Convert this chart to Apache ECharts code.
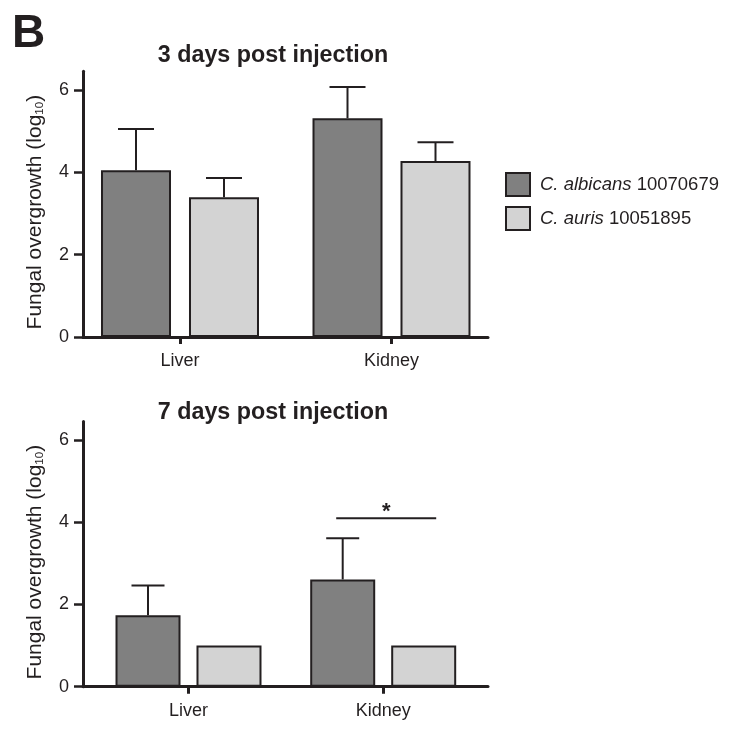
<!DOCTYPE html>
<html><head><meta charset="utf-8">
<script src="https://cdn.jsdelivr.net/npm/echarts@6/dist/echarts.min.js"></script>
<style>html,body{margin:0;padding:0;background:#fff}#c{width:737px;height:731px}</style>
</head><body><div id="c"></div>
<script>
// ---- data ----
const categories = ['Liver', 'Kidney'];
const strainNames = ['C. albicans 10070679', 'C. auris 10051895'];
const day3Albicans = [4.05, 5.31];
const day3AlbicansUpper = [5.05, 6.07];
const day3Auris = [3.39, 4.27];
const day3AurisUpper = [3.86, 4.73];
const day7Albicans = [1.74, 2.61];
const day7AlbicansUpper = [2.46, 3.61];
const day7Auris = [1.0, 1.0];
const day7AurisUpper = [1.0, 1.0];
const yTicks = [0, 2, 4, 6];
const yMax = 6.45;
const day7Significance = [[1, 4.1, '*']];

// ---- styles ----
const INK = '#231f20';
const DARK = '#808080';
const LIGHT = '#d3d3d3';
const FONT = 'Liberation Sans, Arial, Helvetica, sans-serif';

function errData(mean, upper) {
  return categories.map((c, i) => [i, mean[i], upper[i]]);
}
function errorRender(offset, capHalf) {
  return function (params, api) {
    const base = api.coord([api.value(0), api.value(1)]);
    const top = api.coord([api.value(0), api.value(2)]);
    if (Math.abs(top[1] - base[1]) < 0.5) return { type: 'group', children: [] };
    const x = base[0] + offset;
    return {
      type: 'group', children: [
        { type: 'line', shape: { x1: x, y1: base[1], x2: x, y2: top[1] }, style: { stroke: INK, lineWidth: 2 } },
        { type: 'line', shape: { x1: x - capHalf, y1: top[1], x2: x + capHalf, y2: top[1] }, style: { stroke: INK, lineWidth: 2 } }
      ]
    };
  };
}

const yName = 'Fungal overgrowth (log{sub|10})';
function axisY(gridIndex) {
  return {
    type: 'value', gridIndex: gridIndex, min: 0, max: yMax,
    splitLine: { show: false },
    axisLine: { show: true, lineStyle: { color: INK, width: 3 } },
    axisTick: { show: true, length: 9, lineStyle: { color: INK, width: 2.5 }, customValues: yTicks },
    axisLabel: { fontSize: 18, color: INK, margin: 14, fontFamily: FONT, customValues: yTicks },
    name: yName, nameLocation: 'middle', nameGap: 37, nameRotate: 90,
    nameTextStyle: {
      fontSize: 21, color: INK, fontFamily: FONT, padding: [0, 16, 0, 0],
      rich: { sub: { fontSize: 11.5, color: INK, fontFamily: FONT, verticalAlign: 'bottom', padding: [7, 0, 0, 0] } }
    }
  };
}
function hiddenY(gridIndex) {
  return { type: 'value', gridIndex: gridIndex, min: 0, max: yMax, show: false };
}
function catX(gridIndex) {
  return {
    type: 'category', gridIndex: gridIndex, data: categories,
    axisLine: { show: false },
    axisTick: { show: true, alignWithLabel: true, length: 7, lineStyle: { color: INK, width: 3 } },
    axisLabel: { fontSize: 18, color: INK, margin: 15, fontFamily: FONT }
  };
}
function lineX(gridIndex) {
  return {
    type: 'value', gridIndex: gridIndex, min: 0, max: 1,
    axisLine: { show: true, lineStyle: { color: INK, width: 3 } },
    axisTick: { show: false }, axisLabel: { show: false }, splitLine: { show: false }
  };
}
function bar(name, data, xi, color, width, gap) {
  return {
    type: 'bar', name: name, data: data, xAxisIndex: xi, yAxisIndex: xi,
    barWidth: width, barGap: gap,
    itemStyle: { color: color, borderColor: INK, borderWidth: 2 },
    z: 2
  };
}

const chart = echarts.init(document.getElementById('c'), null, { renderer: 'canvas' });
chart.setOption({
  backgroundColor: '#fff',
  animation: false,
  textStyle: { fontFamily: FONT },
  title: [
    { text: 'B', left: 7, top: 6, textStyle: { fontSize: 46, fontWeight: 'bold', color: INK, fontFamily: FONT } },
    { text: '3 days post injection', left: 268, top: 39, textAlign: 'center', textStyle: { fontSize: 23.3, fontWeight: 'bold', color: INK, fontFamily: FONT } },
    { text: '7 days post injection', left: 268, top: 396, textAlign: 'center', textStyle: { fontSize: 23.3, fontWeight: 'bold', color: INK, fontFamily: FONT } }
  ],
  legend: {
    data: strainNames, orient: 'vertical', left: 505, top: 172, padding: 0,
    icon: 'rect', itemWidth: 24, itemHeight: 23, itemGap: 9,
    selectedMode: false,
    formatter: function (name) {
      const p = name.split(' ');
      return '{i|' + p[0] + ' ' + p[1] + '} ' + p[2];
    },
    textStyle: {
      fontSize: 18.5, color: INK, fontFamily: FONT, padding: [0, 0, 0, 5],
      rich: { i: { fontStyle: 'italic', fontSize: 18.5, color: INK, fontFamily: FONT } }
    }
  },
  grid: [
    { left: 74.25, width: 423, top: 71.3, height: 265.7 },
    { left: 83, width: 405, top: 71.3, height: 265.7 },
    { left: 91.15, width: 389.4, top: 421.6, height: 265.1 },
    { left: 83, width: 405, top: 421.6, height: 265.1 }
  ],
  xAxis: [catX(0), lineX(1), catX(2), lineX(3)],
  yAxis: [hiddenY(0), axisY(1), hiddenY(2), axisY(3)],
  series: [
    bar(strainNames[0], day3Albicans, 0, DARK, 70, '25.7%'),
    bar(strainNames[1], day3Auris, 0, LIGHT, 70, '25.7%'),
    { type: 'custom', name: 'err3a', xAxisIndex: 0, yAxisIndex: 0, data: errData(day3Albicans, day3AlbicansUpper), encode: { x: 0, y: [1, 2] }, renderItem: errorRender(-44, 18), z: 3 },
    { type: 'custom', name: 'err3b', xAxisIndex: 0, yAxisIndex: 0, data: errData(day3Auris, day3AurisUpper), encode: { x: 0, y: [1, 2] }, renderItem: errorRender(44, 18), z: 3 },
    bar(strainNames[0], day7Albicans, 2, DARK, 65, '24.6%'),
    bar(strainNames[1], day7Auris, 2, LIGHT, 65, '24.6%'),
    { type: 'custom', name: 'err7a', xAxisIndex: 2, yAxisIndex: 2, data: errData(day7Albicans, day7AlbicansUpper), encode: { x: 0, y: [1, 2] }, renderItem: errorRender(-40.5, 16.5), z: 3 },
    { type: 'custom', name: 'err7b', xAxisIndex: 2, yAxisIndex: 2, data: errData(day7Auris, day7AurisUpper), encode: { x: 0, y: [1, 2] }, renderItem: errorRender(40.5, 16.5), z: 3 },
    {
      type: 'custom', name: 'sig7', xAxisIndex: 2, yAxisIndex: 2,
      data: day7Significance.map(d => [d[0], d[1]]), encode: { x: 0, y: 1 }, z: 3,
      renderItem: function (params, api) {
        const p = api.coord([api.value(0), api.value(1)]);
        const cx = p[0] + 3;
        return {
          type: 'group', children: [
            { type: 'line', shape: { x1: cx - 50, y1: p[1], x2: cx + 50, y2: p[1] }, style: { stroke: INK, lineWidth: 2 } },
            { type: 'text', style: { text: day7Significance[params.dataIndex][2], x: cx, y: p[1] - 6, align: 'center', verticalAlign: 'middle', font: 'bold 22px ' + FONT, fill: INK } }
          ]
        };
      }
    }
  ]
});
</script>
</body></html>
